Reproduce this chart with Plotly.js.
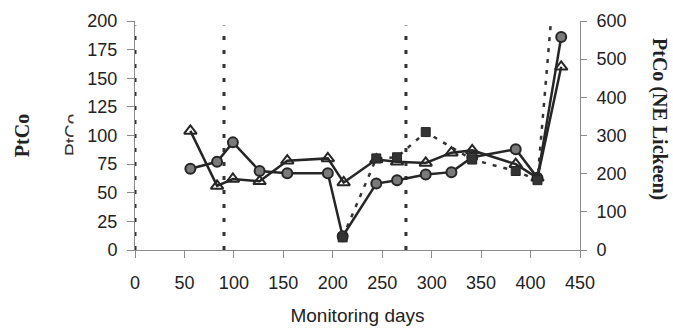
<!DOCTYPE html>
<html>
<head>
<meta charset="utf-8">
<script src="https://cdn.plot.ly/plotly-3.0.1.min.js"></script>
<style>html,body{margin:0;padding:0;background:#fff;}#chart{width:673px;height:329px;}</style>
</head>
<body>
<div id="chart"></div>
<script>
// Monitoring days and PtCo values
const circleDays   = [56, 83, 99, 126, 154, 195, 210, 244, 265, 294, 320, 341, 385, 407, 431];
const circleValues = [71, 77, 94, 69, 67, 67, 12, 58, 61, 66, 68, 81, 88, 63, 186];

const triangleDays   = [56, 83, 99, 126, 154, 195, 211, 244, 265, 294, 320, 341, 385, 407, 431];
const triangleValues = [104, 56, 62, 60, 78, 80, 59, 79, 77, 76, 85, 87, 75, 63, 160];

const squareDays   = [210, 244, 265, 294, 341, 385, 407, 431];
const squareValues = [11, 80, 81, 103, 79, 69, 61, 305];

const eventDays = [0, 90, 274];
const eventTop = 196;

const xTicks = [0, 50, 100, 150, 200, 250, 300, 350, 400, 450];
const yTicks = [0, 25, 50, 75, 100, 125, 150, 175, 200];
const y2Ticks = [0, 100, 200, 300, 400, 500, 600];

const dark = '#262626';
const traces = [];

eventDays.forEach(d => {
  traces.push({
    x: [d, d], y: [0, eventTop], mode: 'lines', showlegend: false, hoverinfo: 'skip',
    line: {color: '#333', width: 3, dash: '4px,10px'}
  });
});

traces.push({
  x: circleDays, y: circleValues, mode: 'lines+markers', name: 'circles', showlegend: false,
  line: {color: dark, width: 2.5},
  marker: {symbol: 'circle', size: 10, color: '#7a7a7a', line: {color: dark, width: 2}}
});
traces.push({
  x: triangleDays, y: triangleValues, mode: 'lines+markers', name: 'triangles', showlegend: false,
  line: {color: dark, width: 2.5},
  marker: {symbol: 'triangle-up-open', size: 11, color: dark, line: {color: dark, width: 2}}
});
traces.push({
  x: squareDays, y: squareValues, mode: 'lines+markers', name: 'squares', showlegend: false,
  line: {color: '#333', width: 2.5, dash: '4px,7px'},
  marker: {symbol: 'square', size: 9, color: '#333', line: {color: dark, width: 1}}
});
// invisible trace to activate right axis
traces.push({x: [0], y: [0], yaxis: 'y2', mode: 'markers', marker: {opacity: 0}, showlegend: false, hoverinfo: 'skip'});

const tickFont = {family: 'Liberation Sans, Arial, sans-serif', size: 18, color: '#222'};
const serifBold = {family: 'Liberation Serif, Times New Roman, serif', size: 20, color: '#222', weight: 'bold'};

// pixel -> paper helpers (plot area: x 135..580, y 21..250)
const px = v => (v - 135) / 445;
const py = v => (250 - v) / 229;

const layout = {
  width: 673, height: 329,
  margin: {l: 135, r: 93, t: 21, b: 79, pad: 0},
  paper_bgcolor: '#fff', plot_bgcolor: '#fff',
  showlegend: false,
  xaxis: {
    range: [0, 450], tickvals: xTicks, ticktext: xTicks.map(String),
    showgrid: false, zeroline: false, showline: true, linecolor: '#8a8a8a', linewidth: 1,
    ticks: 'outside', ticklen: 7, tickcolor: '#8a8a8a', tickfont: tickFont, ticklabelstandoff: 9,
    title: {text: 'Monitoring days', font: {family: 'Liberation Sans, Arial, sans-serif', size: 19, color: '#222'}, standoff: 17}
  },
  yaxis: {
    range: [0, 200], tickvals: yTicks, ticktext: yTicks.map(String),
    showgrid: false, zeroline: false, showline: true, linecolor: '#8a8a8a', linewidth: 1,
    ticks: 'outside', ticklen: 7, tickcolor: '#8a8a8a', tickfont: tickFont, ticklabelstandoff: 6,
    title: {text: 'PtCo', font: serifBold, standoff: 52}
  },
  yaxis2: {
    overlaying: 'y', side: 'right', range: [0, 600], tickvals: y2Ticks, ticktext: y2Ticks.map(String),
    showgrid: false, zeroline: false, showline: true, linecolor: '#8a8a8a', linewidth: 1,
    ticks: 'outside', ticklen: 6, tickcolor: '#8a8a8a', tickfont: tickFont, ticklabelstandoff: 6
  },
  annotations: [
    {text: 'PtCo (NE Lickeen)', xref: 'paper', yref: 'paper', x: px(660), y: py(119),
     xanchor: 'center', yanchor: 'middle', textangle: 90, showarrow: false, font: serifBold},
    {text: 'PtCo', xref: 'paper', yref: 'paper', x: px(71), y: py(135),
     xanchor: 'center', yanchor: 'middle', textangle: -90, showarrow: false,
     font: {family: 'Liberation Sans, Arial, sans-serif', size: 19, color: '#333'}},
    {text: ' ', xref: 'paper', yref: 'paper', x: px(73), y: py(135),
     xanchor: 'left', yanchor: 'middle', showarrow: false, bgcolor: '#fff', width: 5, height: 60,
     borderpad: 1, font: {size: 10}}
  ]
};

Plotly.newPlot('chart', traces, layout, {displayModeBar: false, staticPlot: true});
</script>
</body>
</html>
